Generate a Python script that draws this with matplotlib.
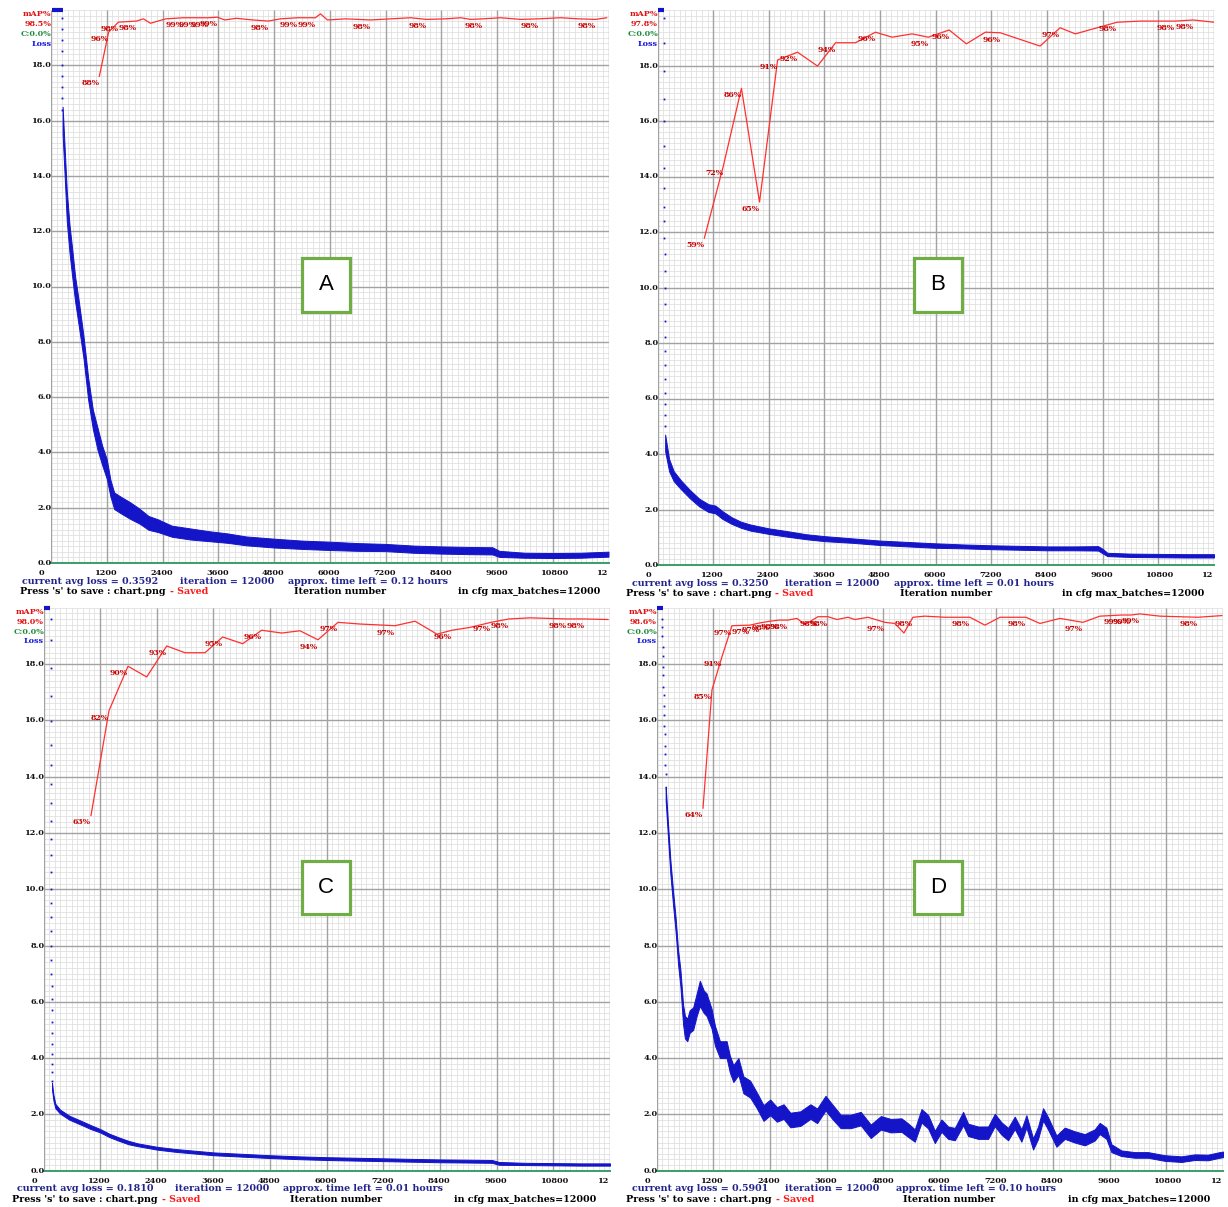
import numpy as np
import matplotlib
matplotlib.use("Agg")
import matplotlib.pyplot as plt
from matplotlib.patches import Rectangle

MAX_BATCHES = 12000
LOSS_MAX = 20.0
X_TICKS = ["0", "1200", "2400", "3600", "4800", "6000", "7200", "8400", "9600", "10800", "12"]
Y_TICKS = ["0.0", "2.0", "4.0", "6.0", "8.0", "10.0", "12.0", "14.0", "16.0", "18.0"]

# ---------------- Panel A ----------------
A_clip_iter = [20, 255]
A_early_it = [228, 230, 232, 234, 236, 238, 240, 242, 244]
A_early_loss = [19.7, 19.3, 18.9, 18.5, 18.0, 17.6, 17.2, 16.8, 16.4]
A_loss_it = [250, 300, 340, 400, 460, 520, 600, 700, 800, 900, 1000, 1100, 1200, 1280, 1360, 1500,
             1700, 1900, 2100, 2300, 2600, 3000, 3400, 3800, 4200, 4800, 5400, 6000, 6600, 7200,
             7800, 8400, 9000, 9500, 9650, 10200, 10800, 11400, 12000]
A_loss_mid = [16.0, 14.3, 12.9, 11.7, 10.8, 9.9, 9.0, 7.8, 6.3, 5.2, 4.5, 3.9, 3.4, 2.7, 2.25, 2.1,
              1.9, 1.7, 1.45, 1.35, 1.15, 1.05, 0.97, 0.9, 0.8, 0.72, 0.66, 0.62, 0.58, 0.56,
              0.5, 0.47, 0.45, 0.44, 0.33, 0.28, 0.27, 0.28, 0.32]
A_loss_half = [0.5, 0.5, 0.55, 0.5, 0.5, 0.45, 0.45, 0.4, 0.4, 0.35, 0.4, 0.35, 0.35, 0.3, 0.3, 0.3,
               0.3, 0.27, 0.25, 0.23, 0.2, 0.2, 0.18, 0.17, 0.16, 0.16, 0.15, 0.15, 0.14, 0.13,
               0.13, 0.13, 0.13, 0.13, 0.11, 0.09, 0.09, 0.09, 0.09]
A_map_it = [1040, 1240, 1450, 1840, 1990, 2140, 2470, 2850, 3130, 3390, 3580, 3740, 3990, 4340, 4680,
            4940, 5310, 5690, 5800, 5950, 6340, 6880, 7310, 7740, 8080, 8490, 8820, 9030, 9290, 9680,
            10110, 10490, 10970, 11360, 11720, 11960]
A_map_val = [88.0, 96.0, 97.8, 98.0, 98.4, 97.6, 98.4, 98.6, 98.6, 98.6, 98.7, 98.2, 98.5, 98.2, 98.0,
             98.4, 98.6, 98.6, 99.3, 98.2, 98.4, 98.2, 98.4, 98.6, 98.3, 98.4, 98.6, 98.3, 98.4, 98.6,
             98.3, 98.4, 98.6, 98.4, 98.3, 98.6]
A_map_lab = [1, 1, 1, 1, 0, 0, 0, 1, 1, 1, 1, 0, 0, 0, 1, 0, 1, 1, 0, 0, 0, 1, 0, 0, 1, 0, 0, 0, 1, 0,
             0, 1, 0, 0, 1, 0]
A_head = ["mAP%", "98.5%", "C:0.0%", "Loss"]
A_info = ["0.3592", "12000", "0.12"]

# ---------------- Panel B ----------------
B_clip_iter = [0, 130]
B_early_it = [140, 141, 142, 143, 144, 145, 146, 147, 148, 149, 150, 151, 152, 153, 154, 155, 156, 157,
              158, 159, 160, 161, 162, 163]
B_early_loss = [19.7, 18.8, 17.8, 16.8, 16.0, 15.1, 14.3, 13.6, 12.9, 12.4, 11.8, 11.2, 10.6, 10.0,
                9.4, 8.8, 8.2, 7.7, 7.2, 6.7, 6.2, 5.8, 5.4, 5.0]
B_loss_it = [165, 250, 350, 500, 700, 900, 1100, 1250, 1400, 1600, 1800, 2000, 2400, 2800, 3200, 3600,
             4200, 4800, 5400, 6000, 6600, 7200, 7800, 8400, 9000, 9500, 9600, 9700, 10200, 10800,
             11400, 12000]
B_loss_mid = [4.4, 3.6, 3.2, 2.9, 2.55, 2.25, 2.05, 2.0, 1.8, 1.6, 1.45, 1.35, 1.22, 1.12, 1.02, 0.95,
              0.88, 0.8, 0.75, 0.7, 0.67, 0.64, 0.62, 0.6, 0.6, 0.6, 0.5, 0.38, 0.35, 0.34, 0.33, 0.33]
B_loss_half = [0.3, 0.22, 0.18, 0.16, 0.15, 0.14, 0.14, 0.14, 0.14, 0.12, 0.11, 0.11, 0.1, 0.1, 0.09,
               0.09, 0.08, 0.08, 0.08, 0.08, 0.07, 0.07, 0.07, 0.07, 0.07, 0.08, 0.08, 0.06, 0.06,
               0.06, 0.06, 0.06]
B_map_it = [1010, 1420, 1810, 2200, 2590, 3020, 3450, 3840, 4270, 4700, 5060, 5490, 5840, 6290, 6660,
            7070, 7390, 8250, 8680, 9010, 9910, 10410, 11160, 11550, 12000]
B_map_val = [58.9, 71.9, 85.9, 65.4, 91.0, 92.4, 89.9, 94.1, 94.1, 96.0, 95.1, 95.7, 95.1, 96.4, 93.9,
             96.0, 95.9, 93.5, 96.8, 95.7, 97.8, 98.0, 98.0, 98.2, 97.8]
B_map_lab = [1, 1, 1, 1, 1, 1, 0, 1, 0, 1, 0, 0, 1, 1, 0, 0, 1, 0, 1, 0, 1, 0, 1, 1, 0]
B_head = ["mAP%", "97.8%", "C:0.0%", "Loss"]
B_info = ["0.3250", "12000", "0.01"]

# ---------------- Panel C ----------------
C_clip_iter = [0, 140]
C_early_it = [150, 151, 152, 153, 154, 155, 156, 157, 158, 159, 160, 161, 162, 163, 164, 165, 166, 167,
              168, 169, 170, 171, 172, 173, 174, 175, 176, 177, 178, 179]
C_early_loss = [19.6, 18.85, 17.85, 16.85, 15.96, 15.14, 14.4, 13.73, 13.06, 12.44, 11.8, 11.2, 10.6,
                10.0, 9.5, 9.0, 8.5, 8.0, 7.5, 7.0, 6.55, 6.1, 5.7, 5.3, 4.9, 4.5, 4.15, 3.8, 3.5, 3.2]
C_loss_it = [180, 210, 250, 350, 550, 800, 1000, 1200, 1400, 1600, 1800, 2000, 2400, 2800, 3200, 3600,
             4200, 4800, 5400, 6000, 6600, 7200, 7800, 8400, 9000, 9500, 9650, 10200, 10800, 11400,
             12000]
C_loss_mid = [3.0, 2.6, 2.3, 2.1, 1.88, 1.7, 1.55, 1.42, 1.25, 1.12, 1.0, 0.92, 0.8, 0.72, 0.66, 0.6,
              0.55, 0.5, 0.46, 0.43, 0.41, 0.39, 0.37, 0.35, 0.34, 0.33, 0.26, 0.24, 0.23, 0.22, 0.22]
C_loss_half = [0.12, 0.1, 0.08, 0.07, 0.07, 0.07, 0.07, 0.06, 0.06, 0.06, 0.06, 0.05, 0.05, 0.05, 0.05,
               0.05, 0.05, 0.05, 0.05, 0.05, 0.05, 0.05, 0.05, 0.05, 0.05, 0.05, 0.05, 0.04, 0.04,
               0.04, 0.04]
C_map_it = [1006, 1387, 1790, 2186, 2610, 2997, 3421, 3796, 4219, 4622, 5045, 5433, 5814, 6238, 6704,
            7446, 7869, 8336, 8653, 9034, 9479, 9860, 10305, 11089, 11470, 11958]
C_map_val = [63.1, 81.7, 89.6, 87.7, 93.2, 92.0, 92.0, 94.8, 93.6, 96.0, 95.5, 95.9, 94.3, 97.4, 97.1,
             96.8, 97.6, 95.3, 96.0, 96.5, 97.4, 98.0, 98.2, 98.0, 98.0, 97.9]
C_map_lab = [1, 1, 1, 0, 1, 0, 0, 1, 0, 1, 0, 0, 1, 1, 0, 1, 0, 0, 1, 0, 1, 1, 0, 1, 1, 0]
C_head = ["mAP%", "98.0%", "C:0.0%", "Loss"]
C_info = ["0.1810", "12000", "0.01"]

# ---------------- Panel D ----------------
D_clip_iter = [0, 130]
D_early_it = [110, 115, 120, 125, 130, 135, 140, 145, 150, 155, 160, 165, 170, 175, 180, 185, 190]
D_early_loss = [19.6, 19.3, 19.0, 18.6, 18.3, 17.9, 17.6, 17.2, 16.9, 16.5, 16.2, 15.8, 15.5, 15.1,
                14.8, 14.4, 14.1]
D_loss_it = [192, 241, 291, 348, 405, 454, 504, 561, 600, 650, 700, 774, 850, 916, 1000, 1058, 1165,
             1236, 1342, 1430, 1484, 1550, 1626, 1733, 1839, 1981, 2123, 2265, 2407, 2549, 2691, 2833,
             3046, 3259, 3401, 3579, 3721, 3899, 4112, 4324, 4537, 4750, 4963, 5188, 5329, 5470, 5612,
             5753, 5894, 6035, 6176, 6318, 6494, 6600, 6812, 7024, 7165, 7306, 7447, 7588, 7729, 7835,
             7976, 8082, 8188, 8294, 8471, 8647, 8859, 9071, 9282, 9388, 9529, 9635, 9847, 10129,
             10412, 10765, 11118, 11400, 11682, 11929, 12000]
D_loss_mid = [13.4, 12.1, 10.8, 9.7, 8.7, 7.6, 6.85, 5.55, 5.1, 5.0, 5.3, 5.4, 5.9, 6.3, 6.0, 5.9, 5.4,
              4.8, 4.3, 4.3, 4.3, 3.8, 3.45, 3.7, 3.05, 2.9, 2.5, 2.05, 2.25, 2.0, 2.1, 1.8,
              1.85, 2.1, 1.95, 2.4, 2.1, 1.75, 1.75, 1.85, 1.4, 1.7, 1.6, 1.62, 1.44, 1.25, 1.95,
              1.74, 1.2, 1.6, 1.35, 1.3, 1.85, 1.45, 1.35, 1.35, 1.8, 1.5, 1.3, 1.7, 1.25, 1.75,
              0.95, 1.35, 2.0, 1.68, 1.05, 1.33, 1.2, 1.1, 1.27, 1.5, 1.33, 0.8, 0.62, 0.56,
              0.56, 0.45, 0.41, 0.48, 0.47, 0.56, 0.58]
D_loss_half = [0.25, 0.25, 0.25, 0.25, 0.25, 0.25, 0.3, 0.35, 0.4, 0.4, 0.4, 0.4, 0.4, 0.45, 0.4, 0.4,
               0.35, 0.35, 0.3, 0.3, 0.3, 0.3, 0.3, 0.3, 0.3, 0.3, 0.28, 0.28, 0.28, 0.26, 0.26, 0.26,
               0.26, 0.26, 0.26, 0.26, 0.26, 0.24, 0.24, 0.24, 0.24, 0.24, 0.24, 0.24, 0.24, 0.22,
               0.24, 0.24, 0.22, 0.22, 0.22, 0.22, 0.24, 0.22, 0.22, 0.22, 0.22, 0.22, 0.22, 0.22,
               0.22, 0.22, 0.2, 0.22, 0.22, 0.22, 0.2, 0.2, 0.2, 0.2, 0.2, 0.2, 0.2, 0.14, 0.1, 0.1,
               0.1, 0.1, 0.1, 0.1, 0.1, 0.1, 0.1]
D_map_it = [983, 1173, 1385, 1597, 1978, 2190, 2402, 2592, 2783, 2974, 3143, 3419, 3630, 3821, 4054,
            4203, 4478, 4838, 5049, 5240, 5431, 5685, 6109, 6638, 6956, 7274, 7825, 8121, 8545, 9032,
            9393, 9859, 10050, 10240, 10664, 11469, 11977]
D_map_val = [64.4, 85.4, 91.3, 96.8, 96.9, 97.3, 97.6, 97.8, 97.8, 98.1, 97.0, 98.4, 98.4, 97.9, 98.3,
             97.9, 98.3, 97.4, 97.2, 95.5, 98.3, 98.5, 98.3, 98.3, 96.9, 98.3, 98.3, 97.2, 98.1, 97.4,
             98.5, 98.7, 98.7, 98.9, 98.5, 98.3, 98.6]
D_map_lab = [1, 1, 1, 1, 1, 1, 1, 1, 1, 0, 0, 1, 1, 0, 0, 0, 0, 1, 0, 0, 1, 0, 0, 1, 0, 0, 1, 0, 0, 1,
             0, 1, 1, 1, 0, 1, 0]
D_head = ["mAP%", "98.6%", "C:0.0%", "Loss"]
D_info = ["0.5901", "12000", "0.10"]

PANEL_LETTERS = ["A", "B", "C", "D"]

# ---------------- styling / layout ----------------
W, H = 1228, 1207
MINOR = "#e0e0e0"
MAJOR = "#a2a2a2"
BLUE = "#1414c8"
RED_LINE = "#ff3030"
RED_TXT = "#c80000"
GREEN = "#3a9d6a"
NAVY = "#23238c"
SERIF = ["DejaVu Serif"]

# plot-area boxes in pixels: x at iteration 0, x at 12000, y at loss 20, y at loss 0
layout = [
    dict(box=(51.0, 608.5, 10.0, 563.0),
         l1=(22, 180, 288), l2=(20, 170, 294, 458), letter=(302, 258, 350, 312)),
    dict(box=(657.5, 1214.0, 10.0, 565.0),
         l1=(632, 785, 894), l2=(626, 775, 900, 1062), letter=(914, 258, 962, 312)),
    dict(box=(43.5, 610.0, 607.7, 1170.7),
         l1=(17, 175, 283), l2=(12, 162, 290, 454), letter=(302, 861, 350, 914)),
    dict(box=(656.6, 1223.0, 607.7, 1170.7),
         l1=(632, 785, 896), l2=(626, 776, 903, 1068), letter=(914, 861, 962, 914)),
]

panels = [
    (A_clip_iter, A_early_it, A_early_loss, A_loss_it, A_loss_mid, A_loss_half,
     A_map_it, A_map_val, A_map_lab, A_head, A_info),
    (B_clip_iter, B_early_it, B_early_loss, B_loss_it, B_loss_mid, B_loss_half,
     B_map_it, B_map_val, B_map_lab, B_head, B_info),
    (C_clip_iter, C_early_it, C_early_loss, C_loss_it, C_loss_mid, C_loss_half,
     C_map_it, C_map_val, C_map_lab, C_head, C_info),
    (D_clip_iter, D_early_it, D_early_loss, D_loss_it, D_loss_mid, D_loss_half,
     D_map_it, D_map_val, D_map_lab, D_head, D_info),
]

fig = plt.figure(figsize=(W / 100, H / 100), dpi=100)
fig.patch.set_facecolor("white")


def fx(x):
    return x / W


def fy(y):
    return 1 - y / H


for lay, data, letter in zip(layout, panels, PANEL_LETTERS):
    (clip_it, early_it, early_loss, loss_it, loss_mid, loss_half,
     map_it, map_val, map_lab, head, info) = data
    x0, x1, yt, yb = lay["box"]
    ax = fig.add_axes([fx(x0), fy(yb), (x1 - x0) / W, (yb - yt) / H])
    ax.set_xlim(0, MAX_BATCHES)
    ax.set_ylim(0, LOSS_MAX)
    ax.axis("off")

    # grid: 100 fine lines, 10 major lines each way
    ax.vlines(np.linspace(0, MAX_BATCHES, 101), 0, LOSS_MAX, color=MINOR, lw=0.6, zorder=0)
    ax.hlines(np.linspace(0, LOSS_MAX, 101), 0, MAX_BATCHES, color=MINOR, lw=0.6, zorder=0)
    ax.vlines(np.linspace(0, MAX_BATCHES, 11), 0, LOSS_MAX, color=MAJOR, lw=1.0, zorder=1)
    ax.hlines(np.linspace(0, LOSS_MAX, 11)[:-1], 0, MAX_BATCHES, color=MAJOR, lw=1.0, zorder=1)

    # contrastive accuracy line (C: 0.0%)
    ax.plot([0, MAX_BATCHES], [0, 0], color=GREEN, lw=1.4, zorder=3, clip_on=False)

    # loss: values above the scale are pinned at the top
    ax.plot(clip_it, [LOSS_MAX, LOSS_MAX], color=BLUE, lw=3, solid_capstyle="butt",
            zorder=4, clip_on=False)
    ax.plot(early_it, early_loss, ls="none", marker="s", ms=1.3, mew=0, color=BLUE, zorder=4)
    mid = np.array(loss_mid)
    half = np.array(loss_half)
    ax.fill_between(loss_it, mid - half, mid + half, color=BLUE, lw=0.7, zorder=4)

    # mAP line (0-100 % mapped onto the full height)
    mv = np.array(map_val) * LOSS_MAX / 100.0
    ax.plot(map_it, mv, color=RED_LINE, lw=0.9, zorder=5)
    for it, v, val, lab in zip(map_it, mv, map_val, map_lab):
        if lab:
            ax.annotate(f"{val:.0f}%", (it, v), xytext=(-18 * 0.72, -9 * 0.72),
                        textcoords="offset points", ha="left", va="baseline",
                        fontsize=5.6, fontweight="bold", color=RED_TXT, family=SERIF,
                        zorder=6, annotation_clip=False)

    # y tick labels
    for k, t in enumerate(Y_TICKS):
        yy = yb - k * (yb - yt) / 10
        fig.text(fx(x0 + 1), fy(yy), t, ha="right", va="center", fontsize=5.9,
                 fontweight="bold", family=SERIF, color="#111111")
    # x tick labels
    for k, t in enumerate(X_TICKS):
        xx = x0 + k * (x1 - x0) / 10 - 12
        fig.text(fx(xx), fy(yb + 10), t, ha="left", va="center", fontsize=5.9,
                 fontweight="bold", family=SERIF, color="#111111")

    # header legend
    head_cols = ["#e01010", "#e01010", "#1e8c3c", "#1414e0"]
    for k, (t, c) in enumerate(zip(head, head_cols)):
        fig.text(fx(x0 + 0.5), fy(yt + 4.5 + k * 9.7), t, ha="right", va="center",
                 fontsize=5.8, fontweight="bold", family=SERIF, color=c)

    # bottom info lines
    l1 = lay["l1"]
    l2 = lay["l2"]
    r1 = yb + 18
    r2 = yb + 29
    kw = dict(va="center", ha="left", fontsize=6.8, fontweight="bold", family=SERIF)
    fig.text(fx(l1[0]), fy(r1), f"current avg loss = {info[0]}", color=NAVY, **kw)
    fig.text(fx(l1[1]), fy(r1), f"iteration = {info[1]}", color=NAVY, **kw)
    fig.text(fx(l1[2]), fy(r1), f"approx. time left = {info[2]} hours", color=NAVY, **kw)
    fig.text(fx(l2[0]), fy(r2), "Press 's' to save : chart.png", color="black", **kw)
    fig.text(fx(l2[1]), fy(r2), "- Saved", color="#ff1a1a", **kw)
    fig.text(fx(l2[2]), fy(r2), "Iteration number", color="black", **kw)
    fig.text(fx(l2[3]), fy(r2), f"in cfg max_batches={MAX_BATCHES}", color="black", **kw)

    # panel letter box
    bx0, by0, bx1, by1 = lay["letter"]
    fig.patches.append(Rectangle((fx(bx0), fy(by1)), (bx1 - bx0) / W, (by1 - by0) / H,
                                 transform=fig.transFigure, facecolor="white",
                                 edgecolor="#70AD47", lw=2.3, zorder=10))
    fig.text(fx((bx0 + bx1) / 2), fy((by0 + by1) / 2), letter, ha="center", va="center",
             fontsize=16, family=["Liberation Sans"], color="black", zorder=11)

fig.savefig("out.png", dpi=100, facecolor="white")
